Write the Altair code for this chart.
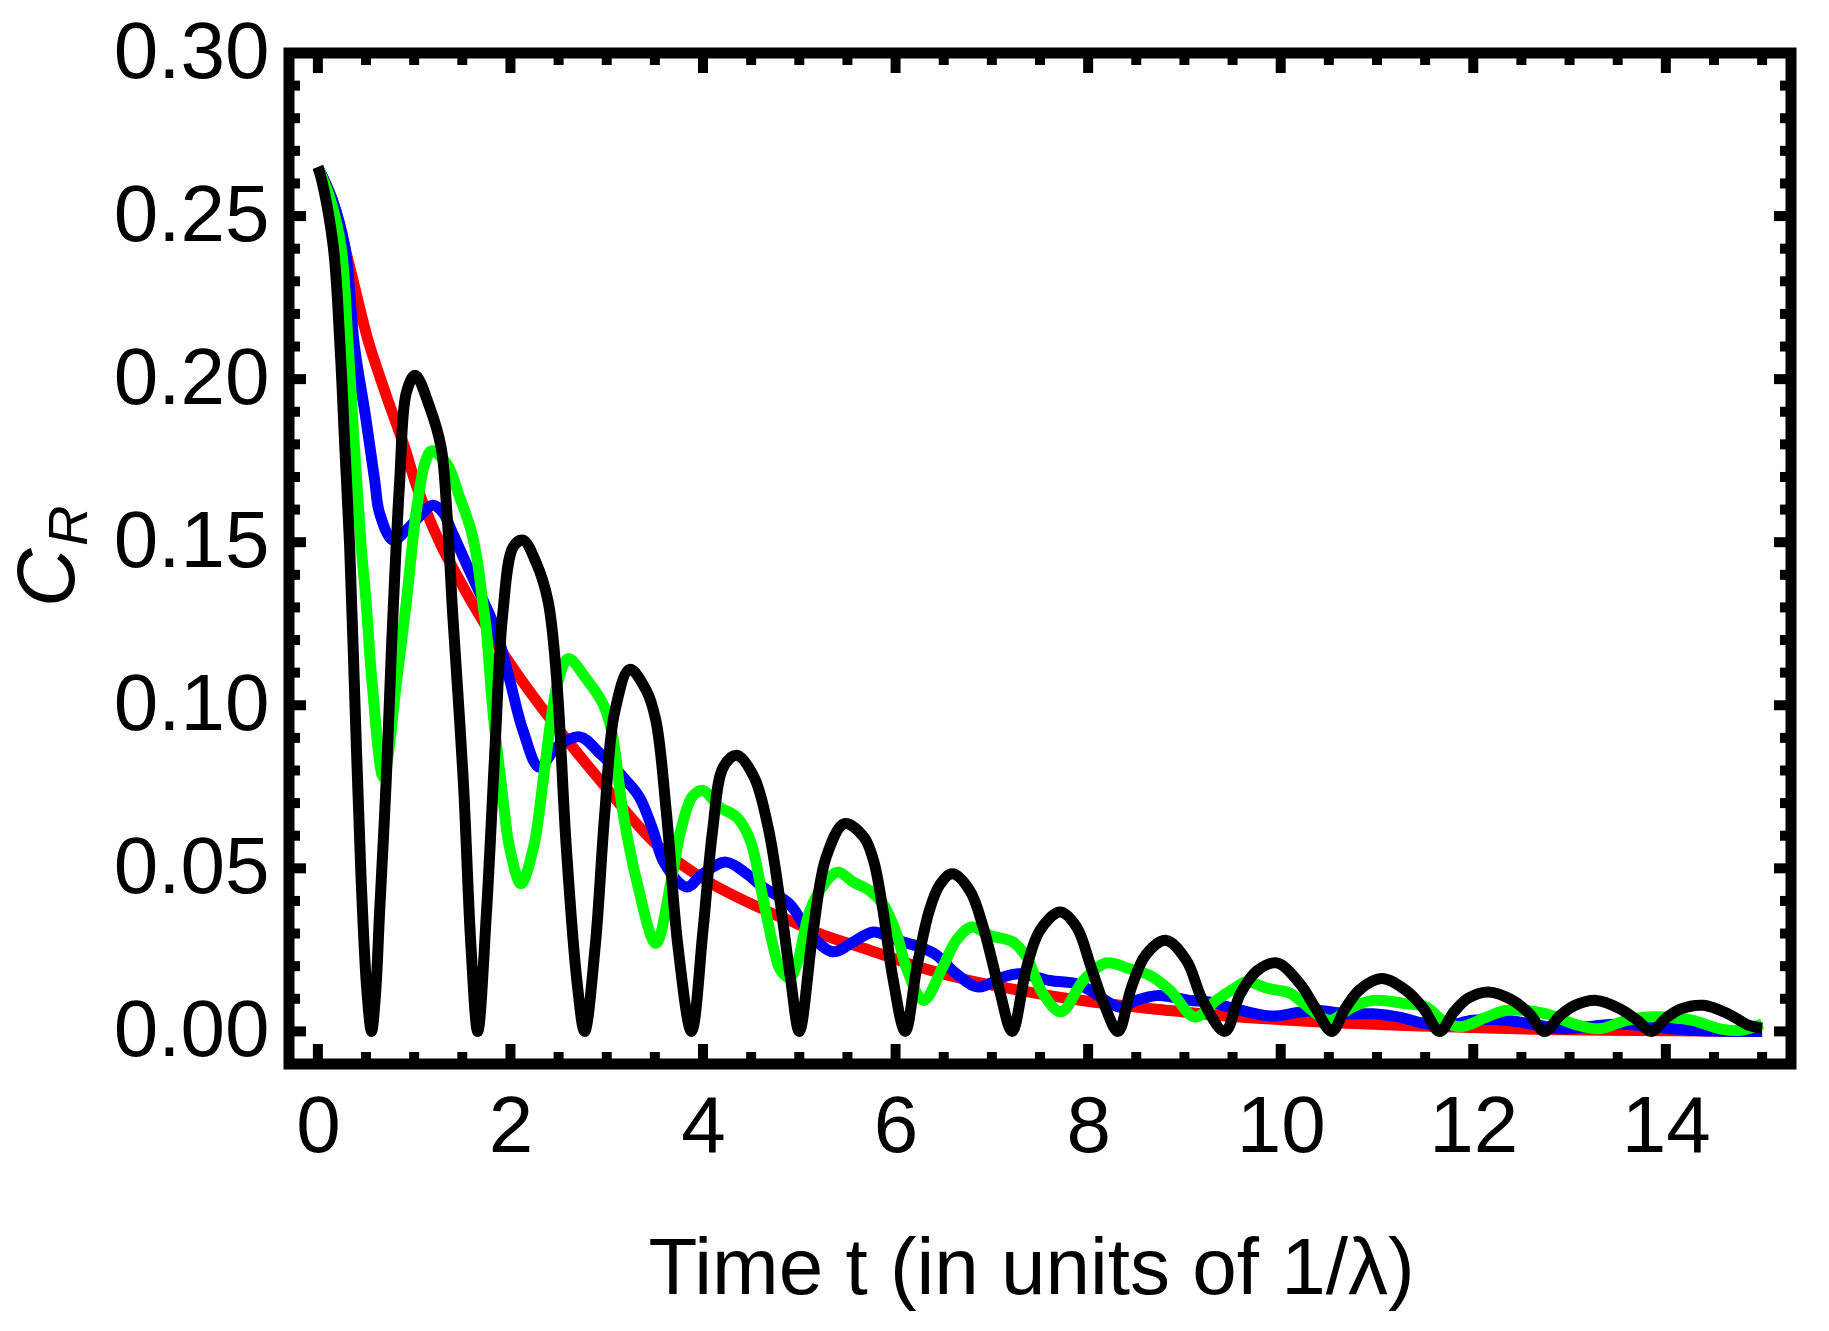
import altair as alt
import pandas as pd

# curves (t in units of 1/lambda, C_R)
t_red = [0, 0.15, 0.3, 0.4, 0.52, 0.71, 0.89, 1.04, 1.28, 1.46, 1.61, 1.99, 2.37, 2.93, 3.51,
         4.03, 4.73, 4.9, 5.21, 5.73, 6.25, 6.77, 7.29, 7.81, 8.33, 8.85, 9.37, 10.0, 10.68,
         11.72, 12.76, 14.0, 15.0]
c_red = [0.265, 0.255, 0.238, 0.226, 0.212, 0.195, 0.18, 0.166, 0.149, 0.139, 0.131, 0.113,
         0.0975, 0.077, 0.0575, 0.0463, 0.036, 0.034, 0.030, 0.0249, 0.0197, 0.0156, 0.0126,
         0.010, 0.008, 0.0064, 0.0049, 0.0036, 0.0025, 0.0014, 0.0006, 0.0002, 0.0]

t_blue = [0, 0.15, 0.28, 0.38, 0.49, 0.59, 0.64, 0.78, 0.92, 1.09, 1.19, 1.3, 1.4, 1.54, 1.7,
          1.85, 1.99, 2.13, 2.3, 2.48, 2.72, 2.93, 3.2, 3.34, 3.48, 3.6, 3.83, 4.0, 4.24, 4.45,
          4.62, 4.9, 5.11, 5.35, 5.56, 5.77, 6.01, 6.25, 6.43, 6.63, 6.86, 7.12, 7.29, 7.6, 7.88,
          8.02, 8.33, 8.5, 8.73, 9.05, 9.26, 9.47, 9.89, 10.2, 10.4, 10.68, 10.96, 11.23, 11.51,
          11.72, 12.0, 12.34, 12.69, 12.93, 13.17, 13.52, 13.86, 14.31, 15.0]
c_blue = [0.265, 0.255, 0.2406, 0.21, 0.1895, 0.169, 0.159, 0.1506, 0.1537, 0.159, 0.1613, 0.159,
          0.1527, 0.1435, 0.1332, 0.123, 0.108, 0.0923, 0.081, 0.0872, 0.0903, 0.0852, 0.077,
          0.0718, 0.0617, 0.0515, 0.0443, 0.0484, 0.0519, 0.0484, 0.0443, 0.039, 0.030, 0.0244,
          0.0274, 0.0305, 0.028, 0.0259, 0.0233, 0.0177, 0.0136, 0.0167, 0.0177, 0.0156, 0.0146,
          0.0126, 0.0074, 0.0095, 0.011, 0.0095, 0.009, 0.0074, 0.0047, 0.0059, 0.0064, 0.0054,
          0.0054, 0.0044, 0.0023, 0.0018, 0.0034, 0.0034, 0.0018, 0.0008, 0.0014, 0.0023, 0.0014,
          0.0003, 0.0]

t_green = [0, 0.12, 0.24, 0.315, 0.38, 0.45, 0.5, 0.56, 0.68, 0.82, 0.92, 1.02, 1.11, 1.18, 1.34,
           1.47, 1.59, 1.66, 1.71, 1.75, 1.82, 1.92, 1.99, 2.11, 2.24, 2.34, 2.43, 2.5, 2.6, 2.79,
           2.96, 3.05, 3.17, 3.31, 3.51, 3.67, 3.77, 3.89, 4.0, 4.17, 4.35, 4.49, 4.62, 4.73, 4.8,
           4.9, 4.98, 5.11, 5.28, 5.4, 5.56, 5.73, 5.87, 6.01, 6.11, 6.29, 6.49, 6.63, 6.79, 6.98,
           7.22, 7.36, 7.53, 7.72, 7.95, 8.19, 8.43, 8.64, 8.85, 9.11, 9.33, 9.54, 9.64, 9.88,
           10.09, 10.2, 10.37, 10.51, 10.75, 10.96, 11.3, 11.51, 11.68, 11.86, 12.14, 12.34, 12.76,
           13.04, 13.31, 13.59, 13.8, 14.0, 14.28, 14.56, 14.77, 15.0]
c_green = [0.265, 0.256, 0.2406, 0.21, 0.179, 0.1486, 0.132, 0.108, 0.078, 0.108, 0.132, 0.159,
           0.174, 0.178, 0.174, 0.164, 0.1537, 0.1435, 0.132, 0.123, 0.0975, 0.072, 0.0565,
           0.0453, 0.0565, 0.077, 0.0975, 0.108, 0.1143, 0.108, 0.1005, 0.0923, 0.067, 0.0463,
           0.027, 0.0463, 0.0617, 0.072, 0.0739, 0.0688, 0.0657, 0.0586, 0.0412, 0.026, 0.019,
           0.0165, 0.021, 0.037, 0.046, 0.0489, 0.0458, 0.0432, 0.039, 0.030, 0.0197, 0.0095,
           0.0197, 0.0279, 0.032, 0.0294, 0.0274, 0.0228, 0.0116, 0.006, 0.0156, 0.021, 0.0192,
           0.0172, 0.0126, 0.0044, 0.0095, 0.0136, 0.0152, 0.0131, 0.0118, 0.0095, 0.0054, 0.0034,
           0.0075, 0.0095, 0.0085, 0.0075, 0.0034, 0.0014, 0.0044, 0.0064, 0.0054, 0.0023, 0.0008,
           0.0034, 0.0044, 0.0044, 0.0034, 0.0008, 0.0003, 0.0023]

t_black = [0, 0.04, 0.16, 0.23, 0.28, 0.33, 0.4, 0.45, 0.51, 0.557, 0.6, 0.64, 0.71, 0.765, 0.85,
           0.92, 1.01, 1.16, 1.28, 1.34, 1.4, 1.51, 1.59, 1.66, 1.75, 1.84, 1.92, 2.03, 2.13, 2.27,
           2.39, 2.48, 2.58, 2.69, 2.77, 2.88, 2.98, 3.08, 3.24, 3.41, 3.51, 3.62, 3.74, 3.88, 4.0,
           4.1, 4.21, 4.35, 4.53, 4.68, 4.8, 4.91, 5.0, 5.14, 5.28, 5.47, 5.67, 5.77, 5.87, 5.97,
           6.1, 6.22, 6.35, 6.46, 6.59, 6.77, 6.91, 7.08, 7.21, 7.36, 7.5, 7.71, 7.88, 8.03, 8.17,
           8.31, 8.45, 8.6, 8.81, 9.02, 9.19, 9.42, 9.58, 9.75, 9.96, 10.2, 10.36, 10.53, 10.67,
           10.82, 11.05, 11.3, 11.48, 11.65, 11.8, 11.95, 12.16, 12.41, 12.59, 12.74, 12.9, 13.05,
           13.28, 13.52, 13.7, 13.85, 14.0, 14.15, 14.39, 14.66, 14.85, 15.0]
c_black = [0.265, 0.261, 0.2406, 0.21, 0.179, 0.1486, 0.087, 0.046, 0.012, 0.0, 0.012, 0.036,
           0.077, 0.118, 0.169, 0.196, 0.2012, 0.1915, 0.179, 0.159, 0.128, 0.077, 0.026, 0.0,
           0.036, 0.087, 0.128, 0.1486, 0.1506, 0.1435, 0.132, 0.108, 0.0565, 0.0156, 0.0, 0.026,
           0.067, 0.0975, 0.111, 0.1046, 0.0954, 0.067, 0.026, 0.0, 0.031, 0.0617, 0.081, 0.0847,
           0.078, 0.062, 0.04, 0.016, 0.0, 0.030, 0.0535, 0.0637, 0.0596, 0.0525, 0.037, 0.0167,
           0.0, 0.0195, 0.037, 0.045, 0.0483, 0.0432, 0.032, 0.0125, 0.0, 0.0195, 0.031, 0.0366,
           0.032, 0.0197, 0.008, 0.0, 0.0135, 0.0235, 0.0279, 0.0218, 0.0095, 0.0, 0.0115, 0.0185,
           0.021, 0.0146, 0.0072, 0.0, 0.007, 0.0128, 0.0162, 0.0126, 0.0072, 0.0, 0.006, 0.0102,
           0.0121, 0.0095, 0.0052, 0.0, 0.0048, 0.0079, 0.0095, 0.007, 0.0035, 0.0, 0.004, 0.0068,
           0.008, 0.0052, 0.002, 0.001]

x_major = [0, 2, 4, 6, 8, 10, 12, 14]
x_minor = [0.5, 1, 1.5, 2.5, 3, 3.5, 4.5, 5, 5.5, 6.5, 7, 7.5, 8.5, 9, 9.5, 10.5, 11, 11.5,
           12.5, 13, 13.5, 14.5, 15]
y_major = [0.0, 0.05, 0.10, 0.15, 0.20, 0.25, 0.30]
y_minor = [0.01, 0.02, 0.03, 0.04, 0.06, 0.07, 0.08, 0.09, 0.11, 0.12, 0.13, 0.14, 0.16, 0.17,
           0.18, 0.19, 0.21, 0.22, 0.23, 0.24, 0.26, 0.27, 0.28, 0.29]

W, H = 1502, 1011
FONT = "Liberation Sans"

x_scale = alt.Scale(domain=[-0.3, 15.3], nice=False, zero=False)
y_scale = alt.Scale(domain=[-0.01, 0.30], nice=False, zero=False)

x_axis = alt.Axis(values=x_major, title="Time t (in units of 1/λ)", grid=False, domain=False,
                  ticks=False, tickSize=0, labelFont=FONT, labelFontSize=80, labelColor="black",
                  labelPadding=24, labelFlush=False, labelOverlap=False,
                  titleFont=FONT, titleFontSize=80, titleFontWeight="normal", titleColor="black",
                  titleBaseline="alphabetic", titleY=229, titleX=742)
y_axis = alt.Axis(values=y_major, format=".2f", title=None, grid=False, domain=False,
                  ticks=False, tickSize=0, labelFont=FONT, labelFontSize=80, labelColor="black",
                  labelPadding=20, labelFlush=False, labelOverlap=False)


def curve(ts, cs, color):
    df = pd.DataFrame({"t": ts, "c": cs})
    return alt.Chart(df).mark_line(color=color, strokeWidth=11, interpolate="catmull-rom",
                                   strokeJoin="round", strokeCap="butt").encode(
        x=alt.X("t:Q", scale=x_scale, axis=x_axis),
        y=alt.Y("c:Q", scale=y_scale, axis=y_axis),
    )


def xticks(vals, length):
    df = pd.DataFrame({"t": vals})
    base = alt.Chart(df).mark_rule(color="black", strokeWidth=10)
    bottom = base.encode(x=alt.X("t:Q", scale=x_scale, axis=x_axis),
                         y=alt.value(H), y2=alt.value(H - length))
    top = base.encode(x=alt.X("t:Q", scale=x_scale, axis=x_axis),
                      y=alt.value(0), y2=alt.value(length))
    return bottom + top


def yticks(vals, length):
    df = pd.DataFrame({"c": vals})
    base = alt.Chart(df).mark_rule(color="black", strokeWidth=10)
    left = base.encode(y=alt.Y("c:Q", scale=y_scale, axis=y_axis),
                       x=alt.value(0), x2=alt.value(length))
    right = base.encode(y=alt.Y("c:Q", scale=y_scale, axis=y_axis),
                        x=alt.value(W), x2=alt.value(W - length))
    return left + right


one = pd.DataFrame({"k": [0]})
label_c = alt.Chart(one).mark_text(text="C", font=FONT, fontSize=81, fontStyle="italic",
                                   angle=270, align="left", baseline="alphabetic",
                                   color="black").encode(x=alt.value(-215), y=alt.value(554))
label_r = alt.Chart(one).mark_text(text="R", font=FONT, fontSize=56, fontStyle="italic",
                                   angle=270, align="left", baseline="alphabetic",
                                   color="black").encode(x=alt.value(-202), y=alt.value(493))

chart = alt.layer(
    curve(t_red, c_red, "#ff0000"),
    curve(t_blue, c_blue, "#0000ff"),
    curve(t_green, c_green, "#00ff00"),
    curve(t_black, c_black, "#000000"),
    xticks(x_major, 20), xticks(x_minor, 12),
    yticks(y_major, 17), yticks(y_minor, 11),
    label_c, label_r,
).properties(
    width=W, height=H,
    autosize="none",
    padding={"left": 281, "top": 45, "right": 30, "bottom": 260},
).configure(background="white").configure_view(stroke="black", strokeWidth=11)

chart.save("out.html", embed_options={"renderer": "svg", "actions": False})
